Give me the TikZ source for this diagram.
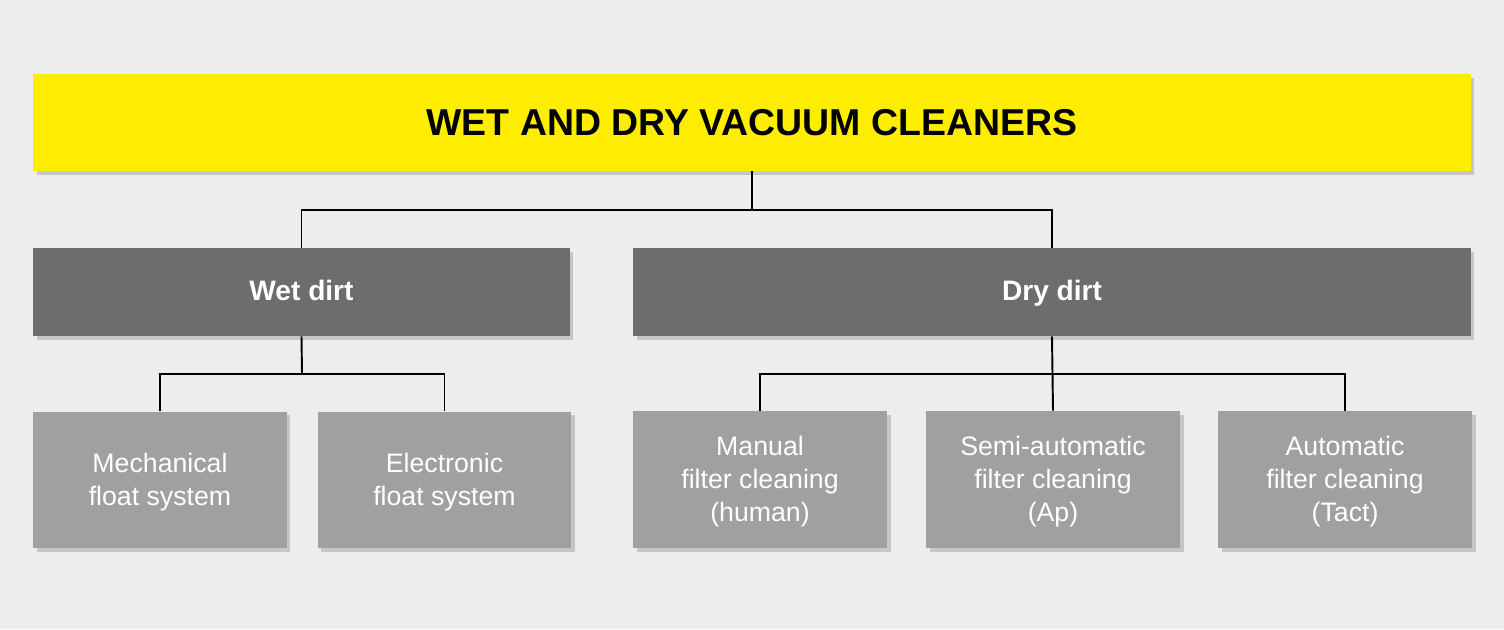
\documentclass[tikz,border=0pt]{standalone}
\usepackage{fontspec}
\setmainfont{Liberation Sans}
\usetikzlibrary{shadows}

\definecolor{bgcol}{HTML}{EDEDED}
\definecolor{vacyellow}{HTML}{FFED00}
\definecolor{darkbox}{HTML}{6E6C6F}
\definecolor{lightbox}{HTML}{A09FA1}

\tikzset{
  boxshadow/.style={drop shadow={opacity=0.35,shadow xshift=2pt,shadow yshift=-2pt}},
  titlebox/.style={fill=vacyellow,boxshadow,inner sep=0pt,minimum width=28.76cm,minimum height=1.94cm,font=\fontsize{21.3}{26}\selectfont\bfseries},
  groupbox/.style={fill=darkbox,boxshadow,inner sep=0pt,minimum height=1.76cm,text height=0.95em,text depth=0pt,text=white,font=\fontsize{16}{19}\selectfont\bfseries},
  leafbox/.style={fill=lightbox,boxshadow,inner sep=0pt,minimum width=5.08cm,minimum height=2.74cm,text=white,align=center,font=\fontsize{15.2}{19}\selectfont},
  link/.style={line width=1.1pt}
}

\begin{document}
\begin{tikzpicture}[x=0.02cm,y=-0.02cm]
\fill[bgcol] (0,0) rectangle (1504,629);

\node[titlebox] (title) at (752,122.5) {WET AND DRY VACUUM CLEANERS};

\node[groupbox,minimum width=10.74cm] (wet) at (301.5,292) {Wet dirt};
\node[groupbox,minimum width=16.76cm] (dry) at (1052,292) {Dry dirt};

\node[leafbox] (mech) at (160,480) {\strut Mechanical\\float system};
\node[leafbox] (elec) at (444.5,480) {\strut Electronic\\float system};
\node[leafbox] (manual) at (760,479.5) {\strut Manual\\filter cleaning\\(human)};
\node[leafbox] (semi) at (1053,479.5) {\strut Semi-automatic\\filter cleaning\\(Ap)};
\node[leafbox] (auto) at (1345,479.5) {\strut Automatic\\filter cleaning\\(Tact)};

\coordinate (jtop) at (752,210);
\coordinate (jwet) at (302,374);
\coordinate (jdry) at (1052,374);

\draw[link] (title.south) -- (jtop);
\draw[link] (wet.north) |- (jtop) -| (dry.north);

\draw[link] (wet.south) -- (jwet);
\draw[link] (mech.north) |- (jwet) -| (elec.north);

\draw[link] (dry.south) -- (semi.north);
\draw[link] (manual.north) |- (jdry) -| (auto.north);

\end{tikzpicture}
\end{document}
